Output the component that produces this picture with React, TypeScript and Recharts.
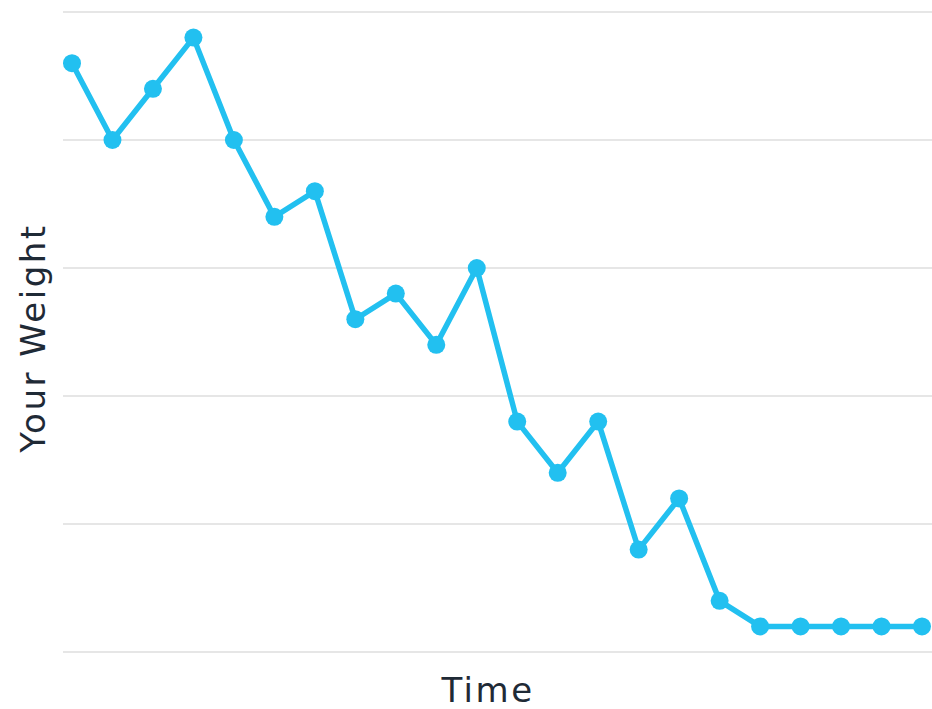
import React from "react";
import { LineChart, Line, XAxis, YAxis, CartesianGrid, Label } from "recharts";

const times = Array.from({ length: 22 }, (_, i) => `T${i + 1}`);
const weights = [4.6, 4.0, 4.4, 4.8, 4.0, 3.4, 3.6, 2.6, 2.8, 2.4, 3.0, 1.8, 1.4, 1.8, 0.8, 1.2, 0.4, 0.2, 0.2, 0.2, 0.2, 0.2];
const yTicks = [0, 1, 2, 3, 4, 5];

const data = times.map((t, i) => ({ time: t, weight: weights[i] }));

const FONT = "'DejaVu Sans', sans-serif";

export default function App() {
  return (
    <div style={{ position: "absolute", left: 0, top: 0, width: 932, height: 709, background: "#fff" }}>
      <LineChart width={932} height={709} data={data} margin={{ top: 12, right: 0, bottom: 0, left: 0 }}>
        <CartesianGrid vertical={false} stroke="#e6e6e6" strokeWidth={2} />
        <XAxis
          dataKey="time"
          tick={false}
          tickLine={false}
          axisLine={false}
          height={57}
          padding={{ left: 9, right: 10 }}
        >
          <Label
            content={() => (
              <text x={488} y={702} textAnchor="middle" fontSize={34} letterSpacing={2.5} fill="#1f2a36" fontFamily={FONT}>
                Time
              </text>
            )}
          />
        </XAxis>
        <YAxis
          domain={[0, 5]}
          ticks={yTicks}
          tick={() => <g />}
          tickLine={false}
          axisLine={false}
          width={63}
        >
          <Label
            content={() => (
              <text
                x={45}
                y={338}
                textAnchor="middle"
                fontSize={34}
                letterSpacing={2.5}
                fill="#1f2a36"
                fontFamily={FONT}
                transform="rotate(-90 45 338)"
              >
                Your Weight
              </text>
            )}
          />
        </YAxis>
        <Line
          type="linear"
          dataKey="weight"
          stroke="#22c0f0"
          strokeWidth={5.5}
          dot={{ r: 9, fill: "#22c0f0", stroke: "none" }}
          activeDot={false}
          isAnimationActive={false}
        />
      </LineChart>
    </div>
  );
}
